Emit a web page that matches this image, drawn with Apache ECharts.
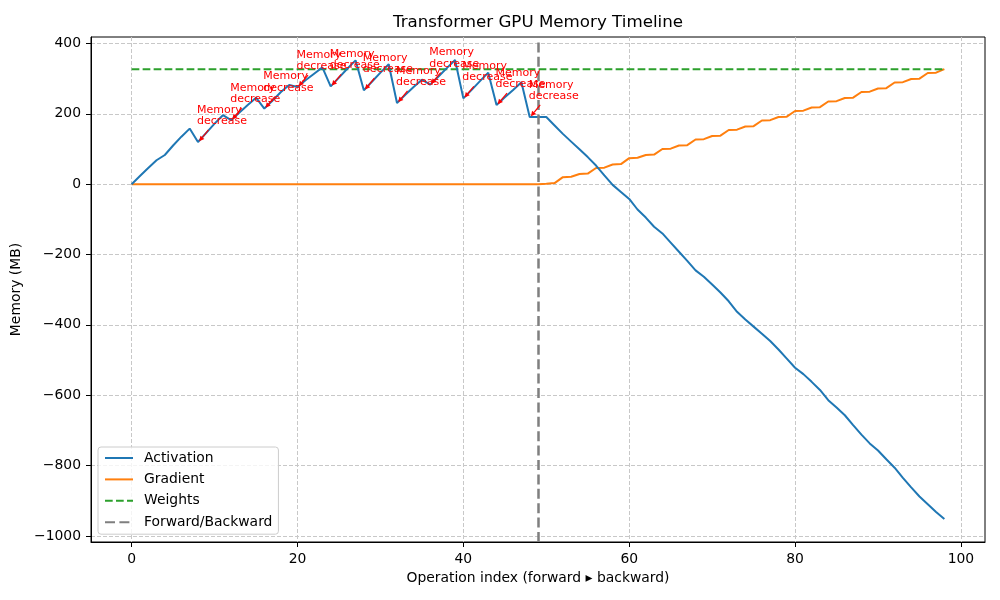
<!DOCTYPE html>
<html>
<head>
<meta charset="utf-8">
<title>Transformer GPU Memory Timeline</title>
<script src="https://cdn.jsdelivr.net/npm/echarts@6/dist/echarts.min.js"></script>
<style>
  html, body { margin: 0; padding: 0; background: #fff; }
  #chart { width: 1000px; height: 600px; }
</style>
</head>
<body>
<div id="chart"></div>
<script>
// memory per operation (MB), one value per op index 0..98
const activation = [
  0, 23, 46, 68, 83, 110, 135, 158, 120, 146,
  172, 196, 182, 204, 225, 246, 215, 238, 262, 282,
  276, 296, 314, 332, 278, 303, 328, 352, 267, 292,
  317, 341, 231, 254, 276, 297, 283, 306, 330, 353,
  244, 268, 293, 317, 225, 247, 268, 290, 191, 191,
  191, 167, 143, 121, 99, 77, 53, 25, -2, -22,
  -42, -72, -95, -121, -140, -166, -192, -218, -245, -263,
  -285, -308, -333, -363, -385, -405, -425, -446, -470, -496,
  -522, -540, -562, -585, -614, -635, -657, -685, -712, -737,
  -757, -782, -806, -835, -862, -888, -910, -932, -952
]
const gradient = [
  0, 0, 0, 0, 0, 0, 0, 0, 0, 0,
  0, 0, 0, 0, 0, 0, 0, 0, 0, 0,
  0, 0, 0, 0, 0, 0, 0, 0, 0, 0,
  0, 0, 0, 0, 0, 0, 0, 0, 0, 0,
  0, 0, 0, 0, 0, 0, 0, 0, 0, 0,
  1, 3, 20, 21, 29, 30, 46, 47, 56, 57,
  74, 75, 83, 84, 100, 101, 110, 111, 127, 128,
  137, 138, 154, 155, 164, 165, 181, 182, 191, 192,
  208, 209, 218, 219, 235, 236, 245, 246, 262, 263,
  272, 273, 289, 290, 299, 300, 316, 317, 327
]
const weightsMB = 327
const boundary = 49 // forward / backward split

const xTicks = [0, 20, 40, 60, 80, 100]
const yTicks = [-1000, -800, -600, -400, -200, 0, 200, 400]

const FONT = 'DejaVu Sans'
const opIndex = activation.map((v, i) => i)

// points where activation memory drops during the forward pass
const drops = []
for (let i = 1; i <= boundary; i++) {
  if (activation[i] < activation[i - 1]) drops.push([i, activation[i]])
}

const minusFmt = v => String(v).replace('-', '\u2212')

const chart = echarts.init(document.getElementById('chart'))

chart.setOption({
  animation: false,
  title: {
    text: 'Transformer GPU Memory Timeline',
    left: 538,
    textAlign: 'center',
    top: 14,
    padding: 0,
    textStyle: { fontFamily: FONT, fontSize: 16.7, fontWeight: 'normal', color: '#000' }
  },
  grid: {
    left: 91,
    right: 15,
    top: 37,
    bottom: 58,
    show: true,
    borderColor: '#000',
    borderWidth: 1
  },
  legend: {
    orient: 'vertical',
    left: 98,
    top: 447,
    padding: [4, 6, 5, 6],
    itemWidth: 28,
    itemHeight: 14,
    itemGap: 7.4,
    itemStyle: { opacity: 0 },
    backgroundColor: 'rgba(255,255,255,0.8)',
    borderColor: '#cccccc',
    borderWidth: 1,
    borderRadius: 3,
    textStyle: { fontFamily: FONT, fontSize: 13.9, color: '#000', padding: [0, 0, 0, 6] },
    data: ['Activation', 'Gradient', 'Weights', 'Forward/Backward']
  },
  xAxis: {
    type: 'value',
    min: -4.9,
    max: 102.9,
    name: 'Operation index (forward \u25B8 backward)',
    nameLocation: 'middle',
    nameGap: 29,
    nameTextStyle: { fontFamily: FONT, fontSize: 13.9, color: '#000' },
    axisLine: { show: true, onZero: false, lineStyle: { color: '#000', width: 1 } },
    axisTick: { show: true, customValues: xTicks, length: 5, lineStyle: { color: '#000', width: 1 } },
    axisLabel: { customValues: xTicks, margin: 10, fontFamily: FONT, fontSize: 13.9, color: '#000' },
    splitLine: { show: true, lineStyle: { color: '#c8c8c8', width: 1, type: [4, 2] } }
  },
  yAxis: {
    type: 'value',
    min: -1017.3,
    max: 418.4,
    name: 'Memory (MB)',
    nameLocation: 'middle',
    nameGap: 64,
    nameTextStyle: { fontFamily: FONT, fontSize: 13.9, color: '#000' },
    axisLine: { show: true, onZero: false, lineStyle: { color: '#000', width: 1 } },
    axisTick: { show: true, customValues: yTicks, length: 5, lineStyle: { color: '#000', width: 1 } },
    axisLabel: { customValues: yTicks, margin: 10, fontFamily: FONT, fontSize: 13.9, color: '#000', formatter: minusFmt },
    splitLine: { show: true, lineStyle: { color: '#c8c8c8', width: 1, type: [4, 2] } }
  },
  series: [
    {
      name: 'Activation',
      type: 'line',
      symbol: 'none',
      color: '#1f77b4',
      lineStyle: { width: 2 },
      data: opIndex.map(i => [i, activation[i]]),
      z: 4
    },
    {
      name: 'Gradient',
      type: 'line',
      symbol: 'none',
      color: '#ff7f0e',
      lineStyle: { width: 2 },
      data: opIndex.map(i => [i, gradient[i]]),
      z: 3
    },
    {
      name: 'Weights',
      type: 'line',
      symbol: 'none',
      color: '#2ca02c',
      lineStyle: { width: 2, type: [7.7, 3.3] },
      data: opIndex.map(i => [i, weightsMB]),
      z: 3
    },
    {
      name: 'Forward/Backward',
      type: 'line',
      symbol: 'none',
      color: '#7f7f7f',
      lineStyle: { width: 2.5, type: [10, 4.4] },
      data: [],
      markLine: {
        silent: true,
        symbol: ['none', 'none'],
        label: { show: false },
        lineStyle: { color: '#7f7f7f', width: 2.5, type: [10, 4.4] },
        data: [{ xAxis: boundary }]
      },
      z: 5
    },
    {
      name: 'annotations',
      type: 'custom',
      clip: false,
      silent: true,
      z: 10,
      data: drops,
      renderItem: function (params, api) {
        const p = api.coord([api.value(0), api.value(1)])
        const x1 = p[0] + 10.5, y1 = p[1] - 12
        const x2 = p[0] + 1.2, y2 = p[1] - 0.8
        const dx = x2 - x1, dy = y2 - y1
        const len = Math.sqrt(dx * dx + dy * dy)
        const ux = dx / len, uy = dy / len
        const hl = 5, hw = 2.6
        const bx = x2 - ux * hl, by = y2 - uy * hl
        return {
          type: 'group',
          children: [
            {
              type: 'text',
              style: {
                text: 'Memory\ndecrease',
                x: p[0] - 1,
                y: p[1] - 38,
                fill: 'red',
                font: '11px "DejaVu Sans"',
                lineHeight: 11.5,
                align: 'left',
                verticalAlign: 'top'
              }
            },
            {
              type: 'line',
              shape: { x1: x1, y1: y1, x2: bx, y2: by },
              style: { stroke: 'red', lineWidth: 1.2 }
            },
            {
              type: 'polygon',
              shape: { points: [[x2, y2], [bx - uy * hw, by + ux * hw], [bx + uy * hw, by - ux * hw]] },
              style: { fill: 'red' }
            }
          ]
        }
      }
    }
  ]
})
</script>
</body>
</html>
